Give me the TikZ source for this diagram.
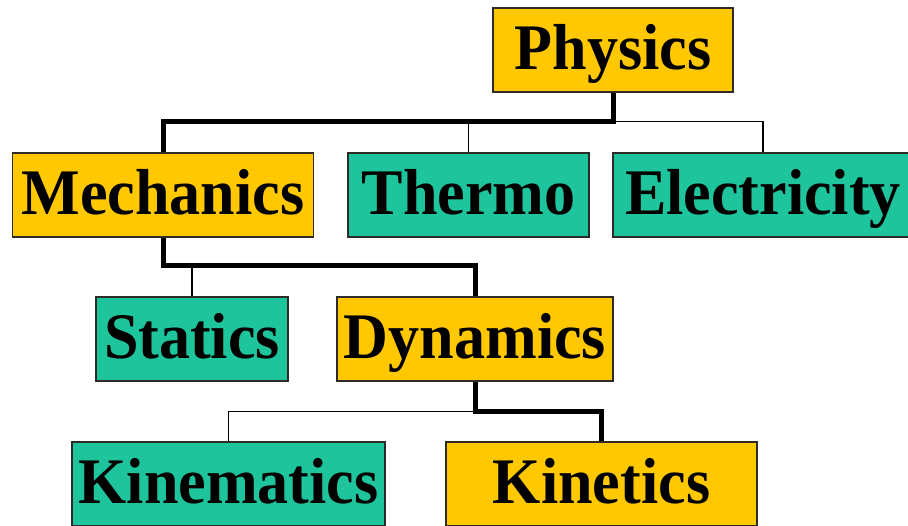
\documentclass[tikz,border=0pt]{standalone}
\usepackage{fontspec}
\setmainfont{Liberation Serif}[FakeStretch=0.955]
\usepackage{tikz}
\usetikzlibrary{calc}
\definecolor{Gold}{HTML}{FFC800}
\definecolor{Jade}{HTML}{1EC59C}
\definecolor{Edge}{HTML}{2E2A26}
\tikzset{
  topic/.style={rectangle,draw=Edge,line width=1.4pt,inner sep=0pt,minimum height=84pt,
    text height=38pt,text depth=0pt,font=\fontsize{65}{65}\selectfont\bfseries},
  main/.style={topic,fill=Gold},
  side/.style={topic,fill=Jade},
  spine/.style={line width=5pt,draw=black},
  twig/.style={line width=1.6pt,draw=black}
}
\begin{document}
\begin{tikzpicture}[x=1pt,y=-1pt]
    \fill[white] (0,0) rectangle (908,525);
    \useasboundingbox (0,0) rectangle (908,525);
    \coordinate (r1) at (0,121.5); \coordinate (r2) at (0,265.5); \coordinate (r3) at (0,411.5);
    \node[main,minimum width=240pt] (phys) at (613,50) {Physics};
    \node[main,minimum width=301pt] (mech) at (163,195) {Mechanics};
    \node[side,minimum width=241pt] (therm) at (468.5,195) {Thermo};
    \node[side,minimum width=300pt] (elec) at (763,195) {Electricity};
    \node[side,minimum width=192pt] (stat) at (192,339) {Statics};
    \node[main,minimum width=276pt] (dyn) at (475,339) {Dynamics};
    \node[side,minimum width=313pt] (kinem) at (228.5,484) {Kinematics};
    \node[main,minimum width=311pt] (kinet) at (601.5,484) {Kinetics};
    \draw[twig] (phys.south |- r1) -| (elec.north);
    \draw[twig] (therm.north) -- (therm.north |- r1);
    \draw[spine] (phys.south) -- (phys.south |- r1) -| (mech.north);
    \draw[twig] (stat.north) -- (stat.north |- r2);
    \draw[spine] (mech.south) -- (mech.south |- r2) -| (dyn.north);
    \draw[twig] (dyn.south |- r3) -| (kinem.north);
    \draw[spine] (dyn.south) -- (dyn.south |- r3) -| (kinet.north);
  \end{tikzpicture}
\end{document}
